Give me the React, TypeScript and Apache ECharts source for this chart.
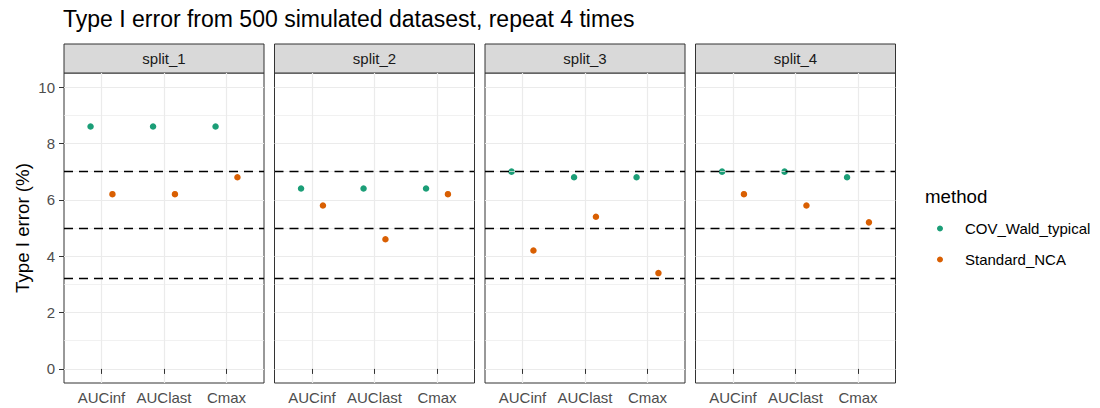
import React, { useEffect, useRef } from 'react';
import * as echarts from 'echarts';

const categories = ['AUCinf', 'AUClast', 'Cmax'];
const splits = ['split_1', 'split_2', 'split_3', 'split_4'];
const methods = ['COV_Wald_typical', 'Standard_NCA'];
const methodColors = ['#1b9e77', '#d95f02'];
const covWald = [
  [8.6, 8.6, 8.6],
  [6.4, 6.4, 6.4],
  [7.0, 6.8, 6.8],
  [7.0, 7.0, 6.8],
];
const standardNCA = [
  [6.2, 6.2, 6.8],
  [5.8, 4.6, 6.2],
  [4.2, 5.4, 3.4],
  [6.2, 5.8, 5.2],
];
const refLines = [3.2, 5, 7];
const yTicks = [0, 2, 4, 6, 8, 10];
const yMinor = [1, 3, 5, 7, 9];
const xTicks = [1, 2, 3];

const FONT = '"Liberation Sans", Arial, Helvetica, sans-serif';
const PANEL_LEFT = 64;
const PANEL_W = 200;
const PANEL_GAP = 10.5;
const PANEL_TOP = 73;
const PANEL_H = 310;
const STRIP_H = 29;
const DODGE = 0.175;

export default function App() {
  const ref = useRef<HTMLDivElement>(null);
  useEffect(() => {
    document.body.style.margin = '0';
    const chart = echarts.init(ref.current!, null, { renderer: 'svg' });
    const seriesValues = [covWald, standardNCA];
    const grids: any[] = [];
    const xAxes: any[] = [];
    const yAxes: any[] = [];
    const series: any[] = [];
    const graphics: any[] = [];
    splits.forEach((s, i) => {
      const left = PANEL_LEFT + i * (PANEL_W + PANEL_GAP);
      grids.push({
        left,
        top: PANEL_TOP,
        width: PANEL_W,
        height: PANEL_H,
        show: true,
        borderColor: '#333333',
        borderWidth: 1,
        backgroundColor: '#ffffff',
        containLabel: false,
      });
      xAxes.push({
        type: 'value',
        gridIndex: i,
        min: 0.4,
        max: 3.6,
        axisLine: { show: false },
        axisTick: { show: true, customValues: xTicks, length: 5, lineStyle: { color: '#333333', width: 1 } },
        axisLabel: {
          customValues: xTicks,
          formatter: (v: number) => categories[Math.round(v) - 1] ?? '',
          color: '#4d4d4d',
          fontSize: 15,
          fontFamily: FONT,
          margin: 7,
        },
        splitLine: { show: true, lineStyle: { color: '#ebebeb', width: 1.2 } },
      });
      yAxes.push({
        type: 'value',
        gridIndex: i,
        min: -0.5,
        max: 10.5,
        axisLine: { show: false },
        axisTick: { show: i === 0, customValues: yTicks, length: 5, lineStyle: { color: '#333333', width: 1 } },
        axisLabel: {
          show: i === 0,
          customValues: yTicks,
          color: '#4d4d4d',
          fontSize: 15,
          fontFamily: FONT,
          margin: 9,
        },
        splitLine: { show: true, lineStyle: { color: '#ebebeb', width: 1.2 } },
      });
      series.push({
        type: 'line',
        xAxisIndex: i,
        yAxisIndex: i,
        data: [],
        silent: true,
        z: 1,
        markLine: {
          silent: true,
          symbol: ['none', 'none'],
          label: { show: false },
          lineStyle: { color: '#ebebeb', width: 0.7, type: 'solid' },
          data: yMinor.map((v) => ({ yAxis: v })),
        },
      });
      series.push({
        type: 'line',
        xAxisIndex: i,
        yAxisIndex: i,
        data: [],
        silent: true,
        z: 2,
        markLine: {
          silent: true,
          symbol: ['none', 'none'],
          label: { show: false },
          lineStyle: { color: '#000000', width: 1.3, type: [9, 6] },
          data: refLines.map((v) => ({ yAxis: v })),
        },
      });
      methods.forEach((m, k) => {
        const off = k === 0 ? -DODGE : DODGE;
        series.push({
          type: 'scatter',
          name: m,
          xAxisIndex: i,
          yAxisIndex: i,
          symbol: 'circle',
          symbolSize: 6.5,
          z: 3,
          itemStyle: { color: methodColors[k], opacity: 1 },
          data: seriesValues[k][i].map((v, j) => [xTicks[j] + off, v]),
        });
      });
      graphics.push({
        type: 'rect',
        shape: { x: left, y: PANEL_TOP - STRIP_H, width: PANEL_W, height: STRIP_H },
        style: { fill: '#d9d9d9', stroke: '#333333', lineWidth: 1 },
      });
      graphics.push({
        type: 'text',
        x: left + PANEL_W / 2,
        y: PANEL_TOP - STRIP_H / 2,
        style: {
          text: s,
          fill: '#1a1a1a',
          font: `15px ${FONT}`,
          textAlign: 'center',
          textVerticalAlign: 'middle',
        },
      });
    });
    graphics.push({
      type: 'text',
      x: 22,
      y: PANEL_TOP + PANEL_H / 2,
      rotation: Math.PI / 2,
      style: {
        text: 'Type I error (%)',
        fill: '#000000',
        font: `18.7px ${FONT}`,
        textAlign: 'center',
        textVerticalAlign: 'middle',
      },
    });
    graphics.push({
      type: 'text',
      x: 925,
      y: 196,
      style: {
        text: 'method',
        fill: '#000000',
        font: `18.7px ${FONT}`,
        textAlign: 'left',
        textVerticalAlign: 'middle',
      },
    });
    chart.setOption({
      animation: false,
      backgroundColor: '#ffffff',
      title: {
        text: 'Type I error from 500 simulated datasest, repeat 4 times',
        left: 63,
        top: 7,
        padding: 0,
        textStyle: { fontSize: 23, fontWeight: 'normal', color: '#000000', fontFamily: FONT },
      },
      legend: {
        data: methods,
        orient: 'vertical',
        left: 932,
        top: 216,
        itemWidth: 40,
        itemHeight: 6,
        itemGap: 16,
        icon: 'circle',
        selectedMode: false,
        textStyle: { fontSize: 15, color: '#000000', fontFamily: FONT },
      },
      grid: grids,
      xAxis: xAxes,
      yAxis: yAxes,
      series,
      graphic: graphics,
    });
    return () => chart.dispose();
  }, []);
  return <div ref={ref} style={{ width: 1100, height: 408 }} />;
}
